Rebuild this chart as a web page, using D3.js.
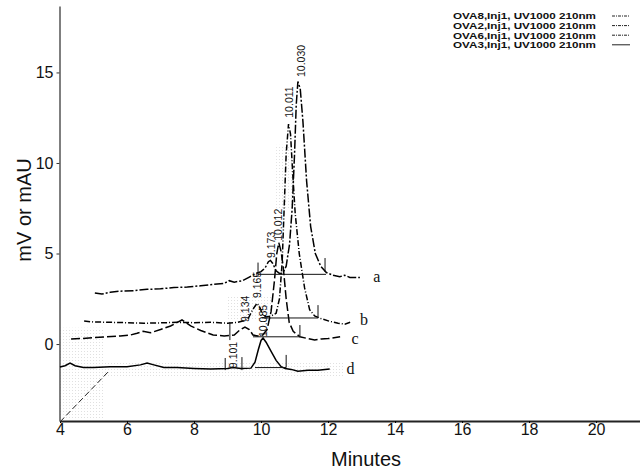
<!DOCTYPE html>
<html>
<head>
<meta charset="utf-8">
<script src="https://cdn.jsdelivr.net/npm/d3@7"></script>
<style>
  body { margin: 0; background: #fff; }
  svg { font-family: Arial, "Liberation Sans", sans-serif; }
</style>
</head>
<body>
<script>
// traces: [minutes, mV]
var traceA = [[5.04,2.82],[5.25,2.76],[5.5,2.86],[5.8,2.92],[6.2,2.95],[6.6,3.02],[7.0,3.05],[7.4,3.12],
  [7.8,3.15],[8.2,3.22],[8.6,3.3],[8.9,3.35],[9.05,3.5],[9.2,3.42],[9.45,3.5],[9.65,3.7],[9.85,3.9],
  [10.0,4.0],[10.12,4.2],[10.22,4.55],[10.28,4.62],[10.35,4.45],[10.45,4.05],[10.55,3.9],[10.65,3.92],
  [10.75,4.3],[10.85,5.5],[10.93,7.5],[11.0,10.5],[11.05,13.2],[11.1,14.5],[11.17,14.1],[11.25,12.3],
  [11.36,9.0],[11.48,6.5],[11.62,5.0],[11.78,4.3],[11.95,3.95],[12.15,3.8],[12.35,3.72],[12.5,3.8],
  [12.65,3.68],[12.95,3.68]];
var traceB = [[4.72,1.27],[5.0,1.22],[5.5,1.2],[6.0,1.18],[6.5,1.15],[7.0,1.17],[7.5,1.2],[8.0,1.18],
  [8.5,1.2],[9.0,1.15],[9.3,1.2],[9.6,1.35],[9.75,1.9],[9.88,2.25],[9.97,2.0],[10.05,1.6],[10.15,1.5],
  [10.3,1.55],[10.45,1.7],[10.55,2.5],[10.63,4.5],[10.69,7.5],[10.75,10.5],[10.82,12.15],[10.88,11.6],
  [10.94,9.6],[11.02,7.2],[11.14,5.0],[11.3,3.1],[11.45,1.9],[11.6,1.55],[11.8,1.4],[12.06,1.25],
  [12.3,1.15],[12.5,1.1],[12.66,1.2]];
var traceC = [[4.33,0.28],[4.6,0.3],[5.0,0.35],[5.4,0.4],[5.8,0.45],[6.1,0.5],[6.3,0.6],[6.48,0.7],
  [6.7,0.62],[7.0,0.8],[7.3,1.0],[7.64,1.33],[7.9,1.0],[8.2,0.75],[8.57,0.5],[8.9,0.45],[9.2,0.5],
  [9.35,0.75],[9.52,0.94],[9.65,0.8],[9.76,0.5],[9.9,0.45],[10.05,0.5],[10.18,0.8],[10.3,1.8],
  [10.4,3.5],[10.47,5.0],[10.53,5.6],[10.6,5.1],[10.66,4.3],[10.75,2.5],[10.84,1.2],[10.96,0.7],
  [11.16,0.4],[11.4,0.3],[11.6,0.22],[11.8,0.28],[12.0,0.3],[12.36,0.4]];
var traceD = [[4.0,-1.27],[4.15,-1.2],[4.3,-1.05],[4.45,-1.2],[4.7,-1.3],[5.0,-1.3],[5.5,-1.25],
  [6.0,-1.25],[6.4,-1.15],[6.6,-1.05],[6.8,-1.15],[7.1,-1.3],[7.5,-1.3],[8.0,-1.35],[8.5,-1.38],
  [9.0,-1.35],[9.16,-1.3],[9.4,-1.35],[9.7,-1.33],[9.82,-1.0],[9.92,-0.3],[10.0,0.2],[10.06,0.33],
  [10.15,0.1],[10.3,-0.4],[10.45,-0.9],[10.6,-1.25],[10.72,-1.35],[10.9,-1.4],[11.1,-1.5],
  [11.4,-1.45],[11.7,-1.45],[12.05,-1.38]];
var artifact = [[4.0,-4.3],[5.43,-1.55]];

var seriesNames = ["OVA8,Inj1, UV1000 210nm", "OVA2,Inj1, UV1000 210nm",
  "OVA6,Inj1, UV1000 210nm", "OVA3,Inj1, UV1000 210nm"];
var traceLetters = ["a", "b", "c", "d"];
var letterPos = [[13.35,3.75],[12.95,1.35],[12.7,0.3],[12.55,-1.35]];

// integration baselines [t0, t1, v] and drop ticks [t, v0, v1]
var baselines = [[9.91,11.94,3.85],[10.03,11.7,1.44],[9.76,11.16,0.4],[9.82,10.75,-1.3]];
var dropTicks = [[9.91,3.7,4.5],[11.91,3.98,4.75],[11.7,1.44,2.15],[11.16,0.39,1.05],
  [10.75,-1.3,-0.6],[8.93,-1.44,-0.77],[9.43,-1.44,-0.72],[9.07,0.22,1.22]];

// peak labels [text, t, v]
var peakLabels = [["10.030",11.2,14.75],["10.011",10.85,12.5],["10.012",10.51,5.7],["9.173",10.3,4.75],
  ["9.165",9.88,2.54],["9.134",9.52,1.22],["10.085",10.06,0.39],["9.101",9.16,-1.33]];

// faint scan halftone patches [t0, t1, v0, v1]
var halftone = [[4.0,5.3,-4.2,0.9],[10.45,10.95,7.5,11.0],[5.3,12.5,-1.0,-1.8],[9.0,10.3,1.3,2.6]];

var xTicks = [4, 6, 8, 10, 12, 14, 16, 18, 20];
var yTicks = [0, 5, 10, 15];

var W = 640, H = 470;
var svg = d3.select("body").append("svg").attr("width", W).attr("height", H);

var x = d3.scaleLinear().domain([4, 21.31]).range([60, 640]);
var y = d3.scaleLinear().domain([-4.25, 18.67]).range([421, 6]);

var pat = svg.append("defs").append("pattern").attr("id", "dots")
  .attr("width", 3).attr("height", 3).attr("patternUnits", "userSpaceOnUse");
pat.append("rect").attr("width", 1).attr("height", 1).attr("fill", "#999");

svg.selectAll(".half").data(halftone).enter().append("rect")
  .attr("x", function (d) {return x(d[0]);})
  .attr("width", function (d) {return x(d[1]) - x(d[0]);})
  .attr("y", function (d) {return y(Math.max(d[2], d[3]));})
  .attr("height", function (d) {return Math.abs(y(d[2]) - y(d[3]));})
  .attr("fill", "url(#dots)").attr("opacity", 0.3);

// axes
var yAxis = svg.append("g").attr("transform", "translate(59.5,0)")
  .call(d3.axisLeft(y).tickValues(yTicks).tickSize(3).tickSizeOuter(0));
yAxis.select(".domain").attr("stroke", "#555").attr("stroke-width", 1.5);
yAxis.selectAll(".tick line").attr("stroke", "#333");
yAxis.selectAll(".tick text").attr("font-size", 16).attr("font-family", "Arial, 'Liberation Sans'")
  .attr("fill", "#111").attr("x", -6);

var xAxis = svg.append("g").attr("transform", "translate(0,421)")
  .call(d3.axisBottom(x).tickValues(xTicks).tickSize(2).tickSizeOuter(0));
xAxis.select(".domain").attr("stroke", "#222").attr("stroke-width", 2);
xAxis.selectAll(".tick text").attr("font-size", 16).attr("font-family", "Arial, 'Liberation Sans'")
  .attr("fill", "#111").attr("y", 3);

svg.append("text").attr("x", 366).attr("y", 466).attr("text-anchor", "middle")
  .attr("font-size", 20).attr("fill", "#111").text("Minutes");
svg.append("text").attr("transform", "translate(31,210) rotate(-90)").attr("text-anchor", "middle")
  .attr("font-size", 20).attr("fill", "#111").text("mV or mAU");

// traces
var line = d3.line().x(function (d) {return x(d[0]);}).y(function (d) {return y(d[1]);});
var traces = [traceA, traceB, traceC, traceD];
var dashes = ["9,2,2,2", "6,2,1,2", "9,3", null];

svg.selectAll(".trace").data(traces).enter().append("path")
  .attr("class", "trace")
  .attr("d", line)
  .attr("fill", "none")
  .attr("stroke", "#000")
  .attr("stroke-width", 1.5)
  .attr("stroke-dasharray", function (d, i) {return dashes[i];});

svg.append("path").attr("d", line(artifact)).attr("fill", "none").attr("stroke", "#222")
  .attr("stroke-width", 1).attr("stroke-dasharray", "6,3");

svg.selectAll(".base").data(baselines).enter().append("line")
  .attr("x1", function (d) {return x(d[0]);}).attr("x2", function (d) {return x(d[1]);})
  .attr("y1", function (d) {return y(d[2]);}).attr("y2", function (d) {return y(d[2]);})
  .attr("stroke", "#111").attr("stroke-width", 1);

svg.selectAll(".drop").data(dropTicks).enter().append("line")
  .attr("x1", function (d) {return x(d[0]);}).attr("x2", function (d) {return x(d[0]);})
  .attr("y1", function (d) {return y(d[1]);}).attr("y2", function (d) {return y(d[2]);})
  .attr("stroke", "#111").attr("stroke-width", 1);

svg.selectAll(".plabel").data(peakLabels).enter().append("text")
  .attr("transform", function (d) {return "translate(" + x(d[1]) + "," + y(d[2]) + ") rotate(-90)";})
  .attr("dy", "0.35em")
  .attr("font-size", 10.5)
  .attr("fill", "#111")
  .text(function (d) {return d[0];});

svg.selectAll(".letter").data(traceLetters).enter().append("text")
  .attr("x", function (d, i) {return x(letterPos[i][0]);})
  .attr("y", function (d, i) {return y(letterPos[i][1]);})
  .attr("dy", "0.35em")
  .attr("font-family", "'Liberation Serif', 'DejaVu Serif', serif")
  .attr("font-size", 16)
  .attr("fill", "#111")
  .text(function (d) {return d;});

// legend
var legend = svg.selectAll(".legend").data(seriesNames).enter().append("g")
  .attr("transform", function (d, i) {return "translate(0," + (16 + i * 9.6) + ")";});
legend.append("text").attr("x", 453).attr("dy", "0.35em")
  .attr("font-size", 9.5).attr("font-weight", "bold").attr("fill", "#111")
  .attr("textLength", 143).attr("lengthAdjust", "spacingAndGlyphs")
  .text(function (d) {return d;});
legend.append("line").attr("x1", 612).attr("x2", 630)
  .attr("stroke", "#222").attr("stroke-width", 1)
  .attr("stroke-dasharray", function (d, i) {return dashes[i] ? "3,1,1,1" : null;});
</script>
</body>
</html>
